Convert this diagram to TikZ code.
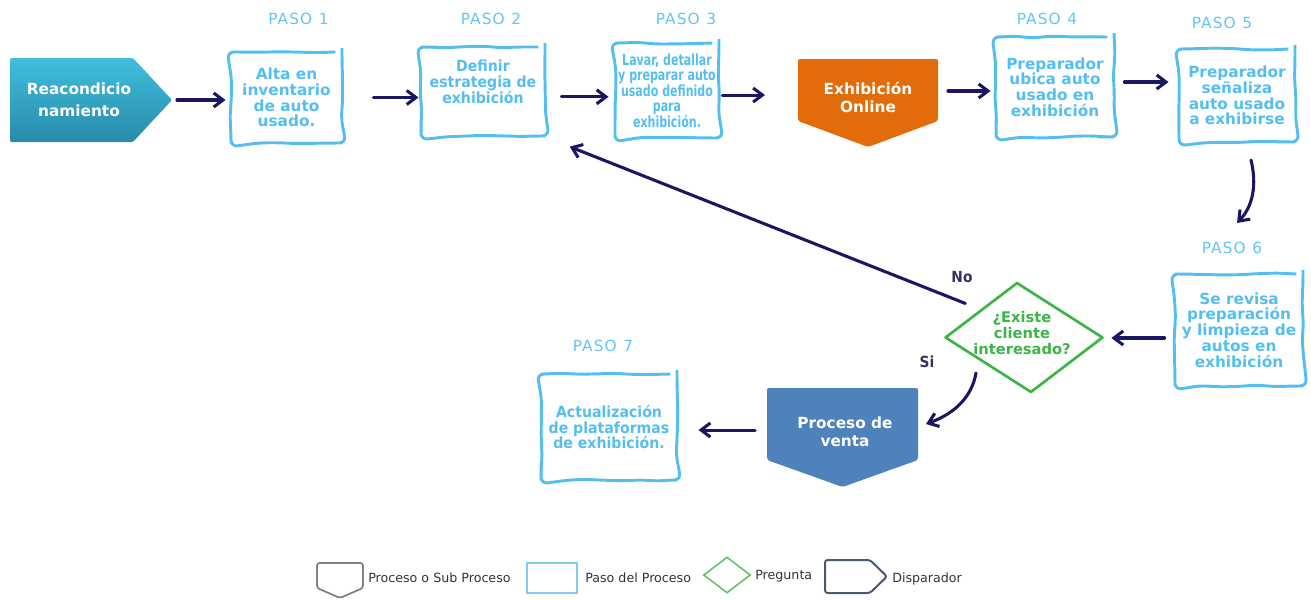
\documentclass[tikz,border=0pt]{standalone}
\usepackage{fontspec}
\setmainfont{DejaVu Sans}
\newfontfamily\condfont[FakeStretch=0.72]{DejaVu Sans}
\newfontfamily\semicond[FakeStretch=0.92]{DejaVu Sans}
\newfontfamily\labfont[FakeStretch=0.9]{DejaVu Sans}
\newfontfamily\pasofont[LetterSpace=7]{DejaVu Sans}
\usetikzlibrary{shapes.geometric,arrows.meta,decorations.pathmorphing}
\definecolor{stepblue}{RGB}{85,190,240}
\definecolor{pasoblue}{RGB}{100,195,245}
\definecolor{navy}{RGB}{27,22,100}
\definecolor{exorange}{RGB}{227,108,10}
\definecolor{ventablue}{RGB}{79,129,189}
\definecolor{tealtop}{RGB}{64,190,220}
\definecolor{tealbot}{RGB}{40,140,170}
\definecolor{qgreen}{RGB}{60,180,72}
\definecolor{labnavy}{RGB}{50,50,100}
\definecolor{leggray}{RGB}{128,128,128}
\definecolor{legslate}{RGB}{75,88,115}
\begin{document}
\begin{tikzpicture}[x=0.75pt,y=-0.75pt,
  stepbox/.style={draw=stepblue, line width=2.2pt, rounded corners=5pt, align=center,
    text=stepblue, font=\bfseries\fontsize{11.5}{11.8}\selectfont, inner sep=0pt,
    decorate, decoration={random steps,segment length=14pt,amplitude=0.8pt}},
  shapebox/.style={inner sep=0pt, outer sep=0pt},
  whitebox/.style={align=center, text=white, inner sep=0pt,
    font=\bfseries\fontsize{11.5}{13.5}\selectfont},
  paso/.style={text=pasoblue, font=\pasofont\fontsize{11.5}{14}\selectfont},
  answer/.style={text=labnavy, font=\labfont\bfseries\fontsize{11.5}{13}\selectfont},
  legtext/.style={anchor=west, text=black!80, font=\fontsize{9.5}{11}\selectfont, inner sep=0pt},
  arr/.style={draw=navy, line width=2.3pt, line cap=round,
    -{Straight Barb[length=7pt,width=10.5pt]}}]
\useasboundingbox (0,0) rectangle (1311,600);
\pgfmathsetseed{4242}

% trigger shape
\node[shapebox, minimum width=121.5pt, minimum height=63pt] (reac) at (91,100) {};
\shade[top color=tealtop, bottom color=tealbot, rounded corners=1pt]
  (reac.north west) -- ([xshift=-29.25pt]reac.north east) -- (reac.east)
  -- ([xshift=-29.25pt]reac.south east) -- (reac.south west) -- cycle;
\node[whitebox, font=\bfseries\fontsize{11.5}{16.5}\selectfont] (reacT) at (79,100) {Reacondicio\\namiento};

% process shapes
\node[shapebox, minimum width=105pt, minimum height=66pt] (exh) at (868,103) {};
\fill[exorange, rounded corners=1.5pt] (exh.north west) -- (exh.north east)
  -- ([yshift=19.5pt]exh.south east) -- (exh.south) -- ([yshift=19.5pt]exh.south west) -- cycle;
\node[whitebox] (exhT) at (868,97) {Exhibición\\Online};

\node[shapebox, minimum width=113.25pt, minimum height=74.25pt] (venta) at (842.5,437.5) {};
\fill[ventablue, rounded corners=1.5pt] (venta.north west) -- (venta.north east)
  -- ([yshift=20.25pt]venta.south east) -- (venta.south) -- ([yshift=20.25pt]venta.south west) -- cycle;
\node[whitebox] (ventaT) at (845,432) {Proceso de\\venta};

% steps
\node[stepbox, minimum width=83.25pt, minimum height=68.25pt] (s1) at (286.5,97.5) {Alta en\\inventario\\de auto\\usado.};
\node[stepbox, minimum width=93pt, minimum height=66.75pt,
  font=\semicond\bfseries\fontsize{11.5}{11.8}\selectfont] (s2) at (483,91.5) {Definir\\estrategia de\\exhibición\\[3pt]};
\node[stepbox, minimum width=78pt, minimum height=71.25pt,
  font=\condfont\bfseries\fontsize{11.5}{11.6}\selectfont] (s3) at (667,90.5) {Lavar, detallar\\y preparar auto\\usado definido\\para\\exhibición.};
\node[stepbox, minimum width=88.5pt, minimum height=75pt] (s4) at (1055,87) {Preparador\\ubica auto\\usado en\\exhibición};
\node[stepbox, minimum width=87pt, minimum height=69.75pt] (s5) at (1237,95.5) {Preparador\\señaliza\\auto usado\\a exhibirse};
\node[stepbox, minimum width=96pt, minimum height=84pt] (s6) at (1239,330) {Se revisa\\preparación\\y limpieza de\\autos en\\exhibición};
\node[stepbox, minimum width=102pt, minimum height=79.5pt,
  font=\semicond\bfseries\fontsize{11.5}{11.8}\selectfont] (s7) at (609,427) {Actualización\\de plataformas\\de exhibición.};

% question
\node[diamond, aspect=1.44, draw=qgreen, line width=2pt, line join=round, minimum width=118.5pt,
  minimum height=82.5pt, inner sep=0pt, xslant=-0.128, transform shape] (dia) at (1024,337.5) {};
\node[text=qgreen, font=\bfseries\fontsize{11}{12.3}\selectfont, align=center, inner sep=0pt]
  (diaT) at (1022,333) {¿Existe\\cliente\\interesado?};

% step labels
\node[paso] (p1) at (298.5,19) {PASO\hspace{5pt}1};
\node[paso] (p2) at (491,19) {PASO\hspace{5pt}2};
\node[paso] (p3) at (686,19) {PASO\hspace{5pt}3};
\node[paso] (p4) at (1047,19) {PASO\hspace{5pt}4};
\node[paso] (p5) at (1222,23) {PASO\hspace{5pt}5};
\node[paso] (p6) at (1232,248) {PASO\hspace{5pt}6};
\node[paso] (p7) at (603,346) {PASO\hspace{5pt}7};
\node[answer] (no) at (962,277) {No};
\node[answer] (si) at (927,362) {Si};

% connectors
\draw[arr, shorten <=3.75pt, shorten >=3pt] (reac.east) -- (reac.east -| s1.west);
\draw[arr, shorten <=22.5pt, shorten >=0.75pt] (s1.east) -- (s1.east -| s2.west);
\draw[arr, shorten <=11.25pt, shorten >=3.75pt] ([yshift=-4pt]s2.east) -- ([yshift=-4pt]s2.east -| s3.west);
\draw[arr, shorten <=1.5pt, shorten >=24.75pt] ([yshift=-3.4pt]s3.east) -- ([yshift=-3.4pt]s3.east -| exh.west);
\draw[arr, shorten <=7.5pt, shorten >=3pt] ([yshift=9pt]exh.east) -- ([yshift=9pt]exh.east -| s4.west);
\draw[arr, shorten <=6.75pt, shorten >=6.75pt] ([yshift=3.75pt]s4.east) -- ([yshift=3.75pt]s4.east -| s5.west);
\coordinate (c5a) at (1251,160);
\coordinate (c6a) at (1237,223);
\draw[arr] (c5a) .. controls (1257,185) and (1253,206) .. (c6a);
\draw[arr, shorten <=6.75pt, shorten >=5.25pt] ([yshift=-6pt]s6.west) -- ([yshift=-6pt]s6.west -| dia.east);
\draw[arr, shorten <=12pt, shorten >=18.75pt] (dia.north west) -- (s2.south east);
\coordinate (siA) at (976,373);
\coordinate (siB) at (926,424);
\draw[arr] (siA) .. controls (972,396) and (956,413) .. (siB);
\draw[arr, shorten <=9pt, shorten >=15pt] ([yshift=5.6pt]venta.west) -- ([yshift=5.6pt]venta.west -| s7.east);

% legend
\node[shapebox, minimum width=34.5pt, minimum height=26.25pt] (l1) at (340,580.5) {};
\draw[leggray, line width=1.3pt, rounded corners=2pt] (l1.north west) -- (l1.north east)
  -- ([yshift=7.5pt]l1.south east) -- (l1.south) -- ([yshift=7.5pt]l1.south west) -- cycle;
\node[legtext] (t1) at (368,578) {Proceso o Sub Proceso};
\node[draw=stepblue!75, line width=1pt, minimum width=37.5pt, minimum height=22.5pt, inner sep=0pt] (l2) at (552,578) {};
\node[legtext] (t2) at (585,578) {Paso del Proceso};
\node[diamond, aspect=1.3, draw=qgreen!80, line width=1.2pt, minimum width=35.25pt, minimum height=27pt, inner sep=0pt] (l3) at (727,575) {};
\node[legtext] (t3) at (755,576.5) {Pregunta};
\node[shapebox, minimum width=46.5pt, minimum height=24.75pt] (l4) at (856,576.5) {};
\draw[legslate, line width=1.5pt, rounded corners=2pt] (l4.north west) -- ([xshift=-12.75pt]l4.north east)
  -- (l4.east) -- ([xshift=-12.75pt]l4.south east) -- (l4.south west) -- cycle;
\node[legtext] (t4) at (892,579) {Disparador};
\end{tikzpicture}
\end{document}
